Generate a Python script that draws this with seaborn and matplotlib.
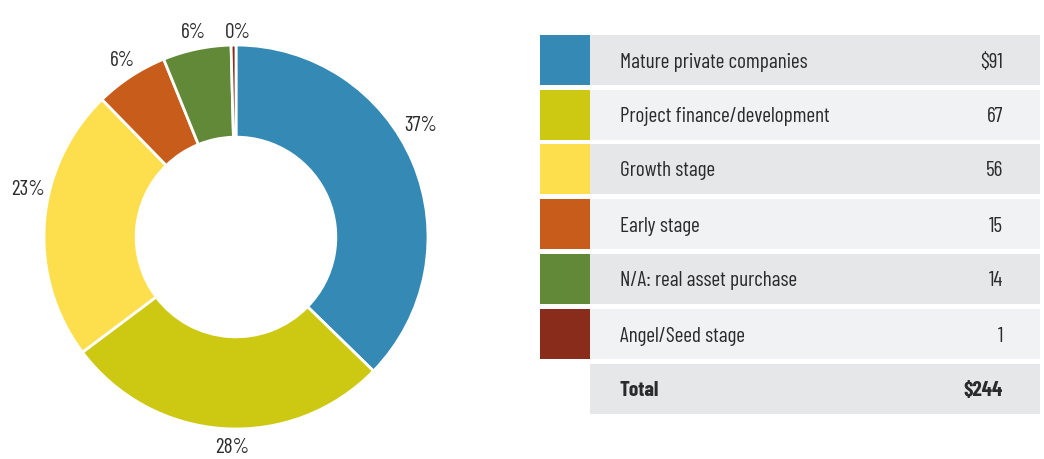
import matplotlib
matplotlib.use("Agg")
import matplotlib.pyplot as plt
from matplotlib.patches import Rectangle
import seaborn as sns

sns.set_theme(style="white")
plt.rcParams["font.family"] = ["Barlow Condensed", "DejaVu Sans"]

# Data
categories = [
    "Mature private companies",
    "Project finance/development",
    "Growth stage",
    "Early stage",
    "N/A: real asset purchase",
    "Angel/Seed stage",
]
values = [91, 67, 56, 15, 14, 1]
value_labels = ["$91", "67", "56", "15", "14", "1"]
pct_labels = ["37%", "28%", "23%", "6%", "6%", "0%"]
total_label = "$244"
colors = ["#3589b5", "#cdc912", "#fddf4d", "#c85c1a", "#628938", "#8a2c1c"]

# label placement (in units of the donut radius, relative to centre)
pct_pos = [(0.963, 0.579), (-0.021, -1.098), (-1.083, 0.245),
           (-0.589, 0.917), (-0.224, 1.063), (0.010, 1.063)]

text_color = "#2b2b2b"
fs = 15.3
W, H = 1044, 459
fig = plt.figure(figsize=(W / 100, H / 100), dpi=100)

# Donut
R = 192
cx, cy = 236, H - 237
half = R * 1.2
ax = fig.add_axes([(cx - half) / W, (cy - half) / H, 2 * half / W, 2 * half / H])
wedges, texts = ax.pie(
    values,
    colors=colors,
    startangle=90,
    counterclock=False,
    radius=1,
    labels=pct_labels,
    wedgeprops=dict(width=0.48, edgecolor="white", linewidth=2),
    textprops=dict(fontsize=fs, color=text_color),
)
for t, p in zip(texts, pct_pos):
    t.set_position(p)
    t.set_ha("center")
    t.set_va("center")
    t.set_clip_on(False)
ax.set_xlim(-1.2, 1.2)
ax.set_ylim(-1.2, 1.2)
ax.set_aspect("equal")
ax.axis("off")

# Table
tx = fig.add_axes([0, 0, 1, 1])
tx.set_xlim(0, W)
tx.set_ylim(H, 0)
tx.axis("off")

row_tops = [35, 89.5, 144, 199, 254, 309]
row_h = 50
bg = ["#e6e7e9", "#f1f2f4"]
for i, (cat, lab, col) in enumerate(zip(categories, value_labels, colors)):
    y0 = row_tops[i]
    ty = y0 + row_h / 2 + 2
    tx.add_patch(Rectangle((540, y0), 50, row_h, facecolor=col, edgecolor="none"))
    tx.add_patch(Rectangle((590, y0), 450, row_h, facecolor=bg[i % 2], edgecolor="none"))
    tx.text(620, ty, cat, fontsize=fs, color=text_color, va="center", ha="left")
    tx.text(1003, ty, lab, fontsize=fs, color=text_color, va="center", ha="right")

y0 = 363.5
ty = y0 + row_h / 2 + 2
tx.add_patch(Rectangle((590, y0), 450, row_h, facecolor="#e6e7e9", edgecolor="none"))
tx.text(620, ty, "Total", fontsize=fs, color=text_color, va="center",
        ha="left", fontweight="bold")
tx.text(1003, ty, total_label, fontsize=fs, color=text_color, va="center",
        ha="right", fontweight="bold")

fig.savefig("out.png", dpi=100)
